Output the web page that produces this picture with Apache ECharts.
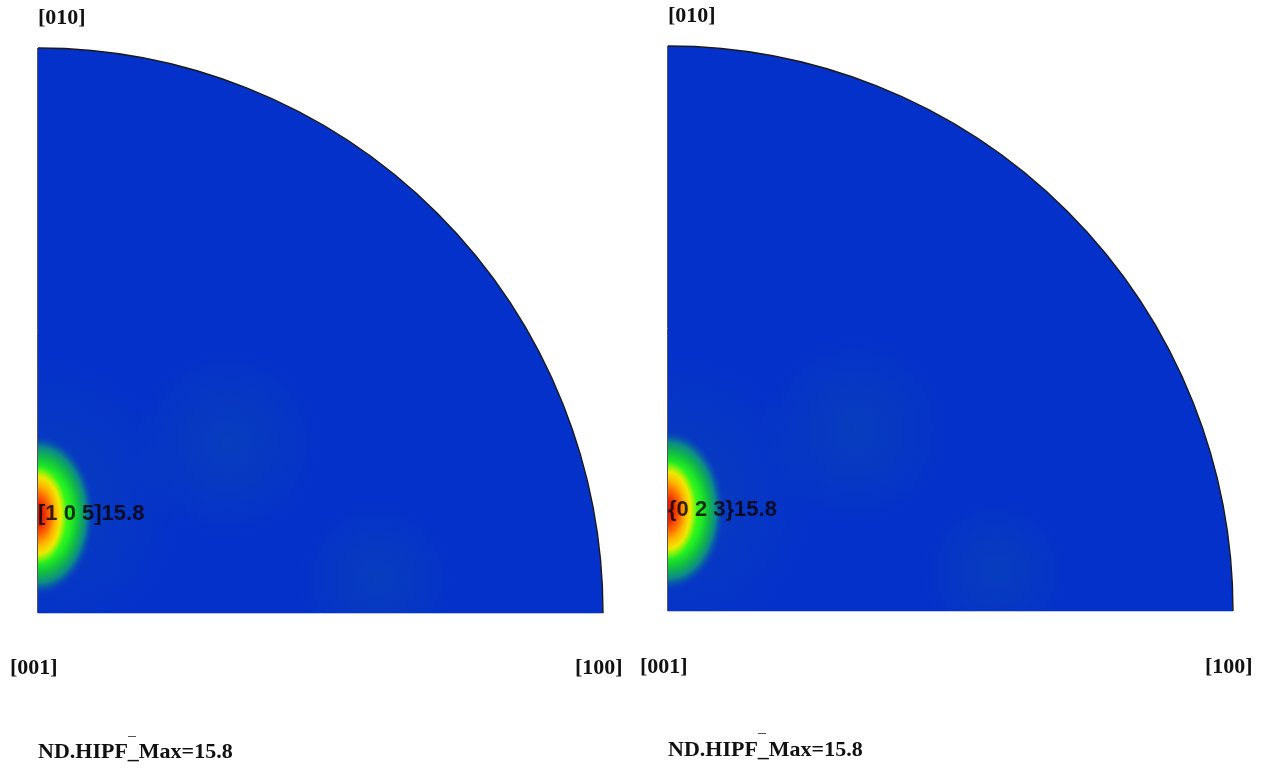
<!DOCTYPE html>
<html><head><meta charset="utf-8">
<script src="https://cdn.jsdelivr.net/npm/echarts@6/dist/echarts.min.js"></script>
<style>html,body{margin:0;padding:0;background:#fff}#c{width:1261px;height:769px}</style>
</head><body><div id="c"></div>
<script>
// ---- data ----
const poleLabels = ['[010]', '[001]', '[100]'];
const figureTitles = ['ND.HIPF_Max=15.8', 'ND.HIPF_Max=15.8'];
const peakLabels = ['[1 0 5]', '{0 2 3}'];
const peakValues = [15.8, 15.8];
const peakX = [0, 0];
const peakY = [0.173, 0.178];
const peakSpreadX = [0.102, 0.102];
const peakSpreadY = [0.145, 0.145];
const labelY = [0.175, 0.179];
// faint secondary maxima / halos: [x, y, spread]
const minorLeft = [[0.335, 0.30, 0.17], [0.60, 0.06, 0.14], [0.0, 0.20, 0.26]];
const minorRight = [[0.33, 0.32, 0.17], [0.58, 0.07, 0.13], [0.0, 0.20, 0.26]];
// colour scale from peak (max) outward to background
const outerColors = ['#c8f000', '#60ff10', '#22f020', '#12c040', '#0c8a88', 'rgba(4,48,202,0)'];
const outerRadii = [0, 0.4, 0.58, 0.7, 0.83, 1.0];
const coreColors = ['#e01800', '#ec2a00', '#ff6a00', '#ffb400', '#f0e800', 'rgba(200,240,0,0)'];
const coreRadii = [0, 0.22, 0.42, 0.6, 0.78, 1.0];
const baseBlue = '#0431ca';

const chart = echarts.init(document.getElementById('c'), null, { renderer: 'canvas' });
const Q0 = -Math.PI / 2, Q1 = 0;

function renderQuadrant(params, api) {
  const o = api.coord([0, 0]);
  const r = api.size([1, 0])[0];
  return {
    type: 'sector', silent: true,
    shape: { cx: o[0], cy: o[1], r: r, r0: 0, startAngle: Q0, endAngle: Q1, clockwise: true },
    style: { fill: baseBlue }
  };
}
function renderOutline(params, api) {
  const o = api.coord([0, 0]);
  const r = api.size([1, 0])[0];
  return {
    type: 'group', silent: true,
    children: [
      { type: 'arc', shape: { cx: o[0], cy: o[1], r: r, startAngle: Q0, endAngle: Q1, clockwise: true },
        style: { stroke: '#1a1a1a', lineWidth: 1.4, fill: null } },
      { type: 'line', shape: { x1: o[0] - 0.5, y1: o[1] - r, x2: o[0] - 0.5, y2: o[1] },
        style: { stroke: '#555', lineWidth: 1 } },
      { type: 'line', shape: { x1: o[0], y1: o[1] + 0.5, x2: o[0] + r, y2: o[1] + 0.5 },
        style: { stroke: '#b8c6ee', lineWidth: 1 } }
    ]
  };
}
// faint blobs: drawn as the whole quadrant filled with a radial gradient, so they stay inside it
function renderMinor(params, api) {
  const o = api.coord([0, 0]);
  const R = api.size([1, 0])[0];
  const c = api.coord([api.value(0), api.value(1)]);
  const rr = api.size([api.value(2), 0])[0];
  return {
    type: 'sector', silent: true,
    shape: { cx: o[0], cy: o[1], r: R, r0: 0, startAngle: Q0, endAngle: Q1, clockwise: true },
    style: { fill: new echarts.graphic.RadialGradient(c[0], c[1], rr, [
      { offset: 0, color: 'rgba(16,86,166,0.32)' },
      { offset: 0.5, color: 'rgba(16,86,166,0.18)' },
      { offset: 1, color: 'rgba(16,86,166,0)' }], true) }
  };
}
function halfEllipse(c, rx, ry, colors, radii) {
  return { type: 'sector', originX: c[0], originY: c[1], scaleY: ry / rx,
    shape: { cx: c[0], cy: c[1], r: rx, r0: 0, startAngle: -Math.PI / 2, endAngle: Math.PI / 2, clockwise: true },
    style: { fill: new echarts.graphic.RadialGradient(c[0], c[1], rx,
      colors.map((col, i) => ({ offset: radii[i], color: col })), true) } };
}
function renderPeak(params, api) {
  const c = api.coord([api.value(0), api.value(1)]);
  const rx = api.size([api.value(2), 0])[0];
  const ry = api.size([0, api.value(3)])[1];
  return {
    type: 'group', silent: true,
    children: [
      halfEllipse(c, rx, ry, outerColors, outerRadii),
      halfEllipse(c, rx * 0.5, ry * 0.6, coreColors, coreRadii)
    ]
  };
}

const grids = [
  { left: 38, top: 48, width: 565, height: 565 },
  { left: 668, top: 46, width: 565, height: 565 }
];
const series = [];
[0, 1].forEach(i => {
  const minor = i === 0 ? minorLeft : minorRight;
  series.push({ type: 'custom', xAxisIndex: i, yAxisIndex: i, renderItem: renderQuadrant, data: [[0, 0]], z: 1 });
  series.push({ type: 'custom', xAxisIndex: i, yAxisIndex: i, renderItem: renderMinor, data: minor, z: 2 });
  series.push({ type: 'custom', xAxisIndex: i, yAxisIndex: i, renderItem: renderPeak,
    data: [[peakX[i], peakY[i], peakSpreadX[i], peakSpreadY[i], peakValues[i]]], z: 3 });
  series.push({ type: 'custom', xAxisIndex: i, yAxisIndex: i, renderItem: renderOutline, data: [[0, 0]], z: 4 });
  series.push({ type: 'scatter', xAxisIndex: i, yAxisIndex: i, symbolSize: 0, silent: true, z: 5,
    data: [{ value: [peakX[i], labelY[i]], name: peakLabels[i] + peakValues[i].toFixed(1) }],
    label: { show: true, position: 'right', distance: 0, formatter: p => p.name,
      fontFamily: '"Liberation Sans", Arial, sans-serif', fontWeight: 'bold', fontSize: 22, color: '#000' } });
});

const serif = 'bold 22px "Liberation Serif", "Times New Roman", serif';
function txt(text, x, y) {
  return { type: 'text', x: x, y: y, silent: true,
    style: { text: text, font: serif, fill: '#111', align: 'left', verticalAlign: 'middle' } };
}
const graphics = [
  txt(poleLabels[0], 38, 18), txt(poleLabels[1], 10, 668), txt(poleLabels[2], 575, 668), txt(figureTitles[0], 38, 752),
  txt(poleLabels[0], 668, 16), txt(poleLabels[1], 640, 667), txt(poleLabels[2], 1205, 667), txt(figureTitles[1], 668, 750),
  { type: 'rect', shape: { x: 128, y: 736, width: 8, height: 1 }, style: { fill: '#555' }, silent: true },
  { type: 'rect', shape: { x: 758, y: 733, width: 8, height: 1 }, style: { fill: '#555' }, silent: true }
];

chart.setOption({
  animation: false,
  backgroundColor: '#fff',
  grid: grids,
  xAxis: [0, 1].map(i => ({ gridIndex: i, type: 'value', min: 0, max: 1, show: false })),
  yAxis: [0, 1].map(i => ({ gridIndex: i, type: 'value', min: 0, max: 1, show: false })),
  series: series,
  graphic: graphics
});
</script></body></html>
